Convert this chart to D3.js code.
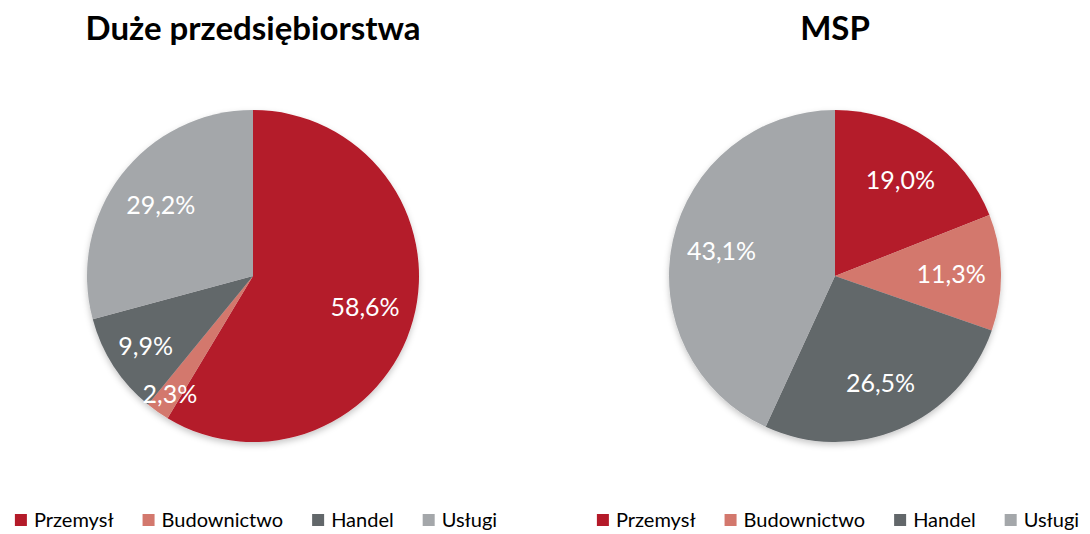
<!DOCTYPE html>
<html>
<head>
<meta charset="utf-8">
<script src="https://cdn.jsdelivr.net/npm/d3@7"></script>
<style>
  body { margin: 0; background: #fff; }
  text { font-family: Lato, "Open Sans", sans-serif; }
</style>
</head>
<body>
<svg width="1090" height="534"></svg>
<script>
const categories = ['Przemysł', 'Budownictwo', 'Handel', 'Usługi'];
const colors = ['#b41a29', '#d3786d', '#62676a', '#a4a7aa'];
const largeValues = [58.6, 2.3, 9.9, 29.2];
const smeValues = [19.0, 11.3, 26.5, 43.1];
const titles = ['Duże przedsiębiorstwa', 'MSP'];

const svg = d3.select('svg');
const R = 166;

const defs = svg.append('defs');
defs.append('filter').attr('id', 'shadow')
  .attr('x', '-10%').attr('y', '-10%').attr('width', '120%').attr('height', '125%')
  .append('feDropShadow')
  .attr('dx', 0).attr('dy', 3).attr('stdDeviation', 3)
  .attr('flood-color', '#000').attr('flood-opacity', 0.22);

const pie = d3.pie().sort(null).value(d => d);
const arc = d3.arc().innerRadius(0).outerRadius(R);
const fmt = v => d3.format('.1f')(v).replace('.', ',') + '%';

function labelRadius(v) {
  if (v < 5) return R * 0.87;
  if (v < 10) return R * 0.77;
  return R * 0.7;
}

function drawPie(values, cx, title) {
  const g = svg.append('g').attr('transform', `translate(${cx},276)`);

  svg.append('text')
    .attr('x', cx).attr('y', 40)
    .attr('text-anchor', 'middle')
    .attr('font-weight', 'bold')
    .attr('font-size', 33)
    .attr('fill', '#000')
    .text(title);

  const arcs = pie(values);
  g.append('g').attr('filter', 'url(#shadow)')
    .selectAll('path')
    .data(arcs)
    .enter()
    .append('path')
    .attr('d', arc)
    .attr('fill', (d, i) => colors[i]);

  g.selectAll('text.lbl')
    .data(arcs)
    .enter()
    .append('text')
    .attr('class', 'lbl')
    .attr('transform', d => {
      const lr = labelRadius(d.data);
      const a = (d.startAngle + d.endAngle) / 2;
      return `translate(${Math.sin(a) * lr},${-Math.cos(a) * lr})`;
    })
    .attr('text-anchor', 'middle')
    .attr('dy', '0.36em')
    .attr('font-size', 25)
    .attr('fill', '#fff')
    .text(d => fmt(d.data));

  // legend
  const gap = 29;
  const lg = svg.append('g');
  let x = 0;
  categories.forEach((c, i) => {
    const item = lg.append('g').attr('transform', `translate(${x},0)`);
    item.append('rect').attr('x', 0).attr('y', -13).attr('width', 12).attr('height', 12)
      .attr('fill', colors[i]);
    const t = item.append('text').attr('x', 19).attr('y', 0)
      .attr('font-size', 20).attr('fill', '#000').text(c);
    x += 19 + t.node().getComputedTextLength() + gap;
  });
  const w = x - gap;
  lg.attr('transform', `translate(${cx + 3 - w / 2},527)`);
}

drawPie(largeValues, 253, titles[0]);
drawPie(smeValues, 835, titles[1]);
</script>
</body>
</html>
